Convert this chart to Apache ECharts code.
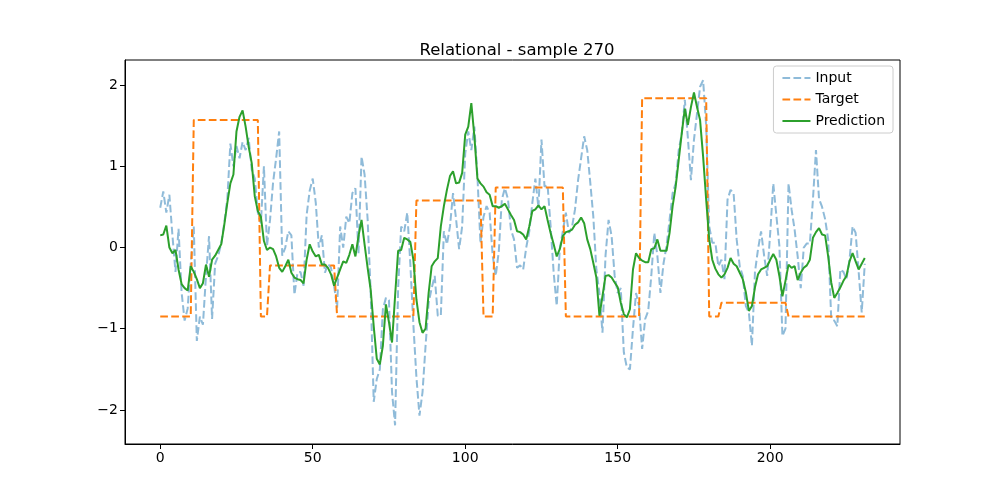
<!DOCTYPE html>
<html>
<head>
<meta charset="utf-8">
<script src="https://cdn.jsdelivr.net/npm/echarts@6/dist/echarts.min.js"></script>
<style>
    html, body {margin: 0; padding: 0; background: #fff;}
    #chart {width: 1000px; height: 500px;}
</style>
</head>
<body>
<div id="chart"></div>
<script>
const inputValues = [
    0.49, 0.69, 0.43, 0.65, 0.15, -0.3, 0.23, -0.55, -0.9, -0.75,
    -0.2, 0.26, -1.15, -0.85, -0.95, -0.35, 0.14, -0.88, -0.2, -0.1,
    0.05, 0.3, 0.6, 1.28, 1.0, 1.25, 1.1, 1.3, 1.2, 1.35,
    0.96, 0.85, 0.43, 0.3, 1.0, 0.02, 0.34, 0.8, 1.1, 1.43,
    -0.1, 0.0, 0.2, 0.15, -0.58, -0.31, -0.3, -0.47, 0.4, 0.7,
    0.85, 0.55, 0.0, 0.15, -0.31, -0.2, -0.25, -0.47, -0.74, 0.26,
    0.0, 0.38, 0.3, 0.67, 0.73, -0.07, 1.12, 0.9, 0.35, -0.55,
    -1.9, -1.62, -1.5, -0.76, -0.62, -0.65, -1.78, -2.19, -0.5, 0.26,
    0.2, 0.43, -0.2, -0.95, -1.6, -2.07, -1.78, -1.21, -0.68, -0.5,
    -0.35, -0.84, -0.84, 0.2, 0.04, 0.26, 0.67, 0.35, -0.02, 0.26,
    1.16, 1.43, 1.2, 1.49, 0.88, 0.05, 0.38, 0.51, 0.43, -0.1,
    -0.35, -0.05, 0.59, 0.73, 0.6, 0.22, 0.1, -0.25, -0.22, -0.27,
    0.0, 0.2, 0.55, 0.85, 0.49, 1.33, 0.75, 0.77, 0.26, -0.31,
    -0.72, -0.02, 0.2, 0.43, 0.18, 0.25, 0.47, 0.83, 1.1, 1.37,
    1.2, 0.8, 0.38, -0.27, -0.56, -1.05, -0.1, 0.34, 0.14, -0.35,
    -0.56, -0.5, -1.29, -1.48, -1.5, -1.0, -0.56, -0.72, -1.25, -0.88,
    -0.78, -0.35, 0.18, -0.1, -0.56, -0.2, 0.02, 0.34, 0.67, 0.79,
    1.2, 1.4, 1.82, 1.35, 0.83, 1.33, 1.65, 1.98, 2.06, 1.5,
    0.26, 0.06, 0.06, -0.23, -0.15, -0.39, 0.59, 0.71, 0.67, 0.1,
    -0.23, -0.35, -0.72, -0.8, -1.21, -0.3, -0.02, 0.2, -0.1, -0.35,
    0.18, 0.79, 0.4, 0.02, -1.09, -1.0, 0.79, 0.47, 0.22, -0.11,
    -0.5, 0.0, 0.05, 0.05, 0.59, 1.2, 0.6, 0.5, 0.35, 0.1,
    -0.88, -0.9, -0.97, -0.27, -0.3, -0.39, -0.15, 0.26, 0.18, -0.3,
    -0.8, -0.2
];

const targetValues = [
    -0.85, -0.85, -0.85, -0.85, -0.85, -0.85, -0.85, -0.85, -0.85, -0.85,
    -0.85, 1.57, 1.57, 1.57, 1.57, 1.57, 1.57, 1.57, 1.57, 1.57,
    1.57, 1.57, 1.57, 1.57, 1.57, 1.57, 1.57, 1.57, 1.57, 1.57,
    1.57, 1.57, 1.57, -0.85, -0.85, -0.85, -0.22, -0.22, -0.22, -0.22,
    -0.22, -0.22, -0.22, -0.22, -0.22, -0.22, -0.22, -0.22, -0.22, -0.22,
    -0.22, -0.22, -0.22, -0.22, -0.22, -0.22, -0.22, -0.22, -0.85, -0.85,
    -0.85, -0.85, -0.85, -0.85, -0.85, -0.85, -0.85, -0.85, -0.85, -0.85,
    -0.85, -0.85, -0.85, -0.85, -0.85, -0.85, -0.85, -0.85, -0.85, -0.85,
    -0.85, -0.85, -0.85, -0.85, 0.58, 0.58, 0.58, 0.58, 0.58, 0.58,
    0.58, 0.58, 0.58, 0.58, 0.58, 0.58, 0.58, 0.58, 0.58, 0.58,
    0.58, 0.58, 0.58, 0.58, 0.58, 0.58, -0.85, -0.85, -0.85, -0.85,
    0.74, 0.74, 0.74, 0.74, 0.74, 0.74, 0.74, 0.74, 0.74, 0.74,
    0.74, 0.74, 0.74, 0.74, 0.74, 0.74, 0.74, 0.74, 0.74, 0.74,
    0.74, 0.74, 0.74, -0.85, -0.85, -0.85, -0.85, -0.85, -0.85, -0.85,
    -0.85, -0.85, -0.85, -0.85, -0.85, -0.85, -0.85, -0.85, -0.85, -0.85,
    -0.85, -0.85, -0.85, -0.85, -0.85, -0.85, -0.85, -0.85, 1.84, 1.84,
    1.84, 1.84, 1.84, 1.84, 1.84, 1.84, 1.84, 1.84, 1.84, 1.84,
    1.84, 1.84, 1.84, 1.84, 1.84, 1.84, 1.84, 1.84, 1.84, 1.84,
    -0.85, -0.85, -0.85, -0.85, -0.68, -0.68, -0.68, -0.68, -0.68, -0.68,
    -0.68, -0.68, -0.68, -0.68, -0.68, -0.68, -0.68, -0.68, -0.68, -0.68,
    -0.68, -0.68, -0.68, -0.68, -0.68, -0.68, -0.85, -0.85, -0.85, -0.85,
    -0.85, -0.85, -0.85, -0.85, -0.85, -0.85, -0.85, -0.85, -0.85, -0.85,
    -0.85, -0.85, -0.85, -0.85, -0.85, -0.85, -0.85, -0.85, -0.85, -0.85,
    -0.85, -0.85
];

const predictionValues = [
    0.15, 0.16, 0.27, 0.0, -0.07, -0.03, -0.27, -0.45, -0.5, -0.53,
    -0.23, -0.3, -0.39, -0.5, -0.44, -0.21, -0.36, -0.15, -0.1, -0.03,
    0.04, 0.28, 0.55, 0.79, 0.9, 1.43, 1.61, 1.69, 1.49, 1.24,
    1.04, 0.63, 0.45, 0.38, 0.08, -0.03, 0.0, -0.02, -0.11, -0.25,
    -0.3, -0.23, -0.15, -0.31, -0.37, -0.39, -0.4, -0.44, -0.15, 0.04,
    -0.05, -0.11, -0.09, -0.21, -0.21, -0.25, -0.33, -0.47, -0.37, -0.27,
    -0.17, -0.19, -0.09, 0.04, -0.11, 0.14, 0.34, 0.04, -0.25, -0.52,
    -0.97, -1.37, -1.44, -1.21, -0.7, -0.92, -1.17, -0.6, -0.04, -0.03,
    0.12, 0.1, 0.07, -0.15, -0.64, -0.92, -1.05, -1.0, -0.56, -0.23,
    -0.17, -0.13, 0.26, 0.51, 0.71, 0.88, 0.94, 0.79, 0.8, 0.92,
    1.39, 1.49, 1.78, 1.37, 0.85, 0.79, 0.75, 0.68, 0.65, 0.51,
    0.51, 0.49, 0.51, 0.54, 0.47, 0.4, 0.34, 0.2, 0.19, 0.16,
    0.1, 0.26, 0.45, 0.47, 0.52, 0.47, 0.51, 0.34, 0.18, 0.04,
    -0.11, -0.02, 0.14, 0.19, 0.2, 0.22, 0.28, 0.31, 0.37, 0.3,
    0.1, -0.02, -0.19, -0.37, -0.84, -0.6, -0.35, -0.34, -0.37, -0.43,
    -0.49, -0.68, -0.82, -0.86, -0.76, -0.27, -0.07, -0.13, -0.16, -0.18,
    -0.18, -0.02, -0.01, 0.1, -0.04, -0.04, -0.04, 0.18, 0.51, 0.75,
    1.08, 1.41, 1.71, 1.51, 1.73, 1.91, 1.73, 1.57, 1.12, 0.59,
    0.1, -0.15, -0.26, -0.33, -0.37, -0.33, -0.25, -0.13, -0.2, -0.23,
    -0.31, -0.39, -0.55, -0.78, -0.72, -0.49, -0.33, -0.27, -0.25, -0.23,
    -0.15, -0.08, -0.15, -0.35, -0.6, -0.41, -0.21, -0.25, -0.23, -0.4,
    -0.31, -0.25, -0.22, -0.15, 0.12, 0.19, 0.24, 0.16, 0.15, -0.11,
    -0.43, -0.62, -0.56, -0.49, -0.41, -0.35, -0.17, -0.07, -0.17, -0.27,
    -0.2, -0.13
];

const xTicks = [0, 50, 100, 150, 200];
const yTicks = [-2, -1, 0, 1, 2];

const font = 'DejaVu Sans';
const withIndex = arr => arr.map((v, i) => [i, v]);
const minusSign = v => String(v).replace('-', '\u2212');
const dash = [7.7, 3.3];

const chart = echarts.init(document.getElementById('chart'));
const option = {
    animation: false,
    title: {
        text: 'Relational - sample 270',
        left: 512,
        top: 37,
        textAlign: 'center',
        textStyle: {fontFamily: font, fontSize: 16.5, fontWeight: 'normal', color: '#000'}
    },
    legend: {
        orient: 'vertical',
        right: 107,
        top: 66,
        padding: [5, 8, 5, 8],
        itemGap: 7.5,
        itemWidth: 28,
        itemHeight: 14,
        itemStyle: {opacity: 0},
        backgroundColor: 'rgba(255,255,255,0.8)',
        borderColor: '#cccccc',
        borderWidth: 1,
        borderRadius: 3,
        textStyle: {fontFamily: font, fontSize: 14, color: '#000'},
        data: ['Input', 'Target', 'Prediction']
    },
    grid: {
        left: 125, right: 100, top: 60, bottom: 56,
        show: true, borderColor: '#000', borderWidth: 1, backgroundColor: 'transparent'
    },
    xAxis: {
        type: 'value',
        min: -11.55,
        max: 242.55,
        splitLine: {show: false},
        axisLine: {show: true, onZero: false, lineStyle: {color: '#000'}},
        axisTick: {show: true, customValues: xTicks, length: 5, lineStyle: {color: '#000'}},
        axisLabel: {
            customValues: xTicks, color: '#000', fontFamily: font, fontSize: 14, margin: 7,
            formatter: minusSign
        }
    },
    yAxis: {
        type: 'value',
        min: -2.42,
        max: 2.31,
        splitLine: {show: false},
        axisLine: {show: true, onZero: false, lineStyle: {color: '#000'}},
        axisTick: {show: true, customValues: yTicks, length: 5, lineStyle: {color: '#000'}},
        axisLabel: {
            customValues: yTicks, color: '#000', fontFamily: font, fontSize: 14, margin: 7,
            formatter: minusSign
        }
    },
    series: [
        {
            name: 'Input',
            type: 'line',
            data: withIndex(inputValues),
            showSymbol: false,
            symbol: 'none',
            color: 'rgba(31,119,180,0.5)',
            lineStyle: {width: 2, type: dash, color: 'rgba(31,119,180,0.5)'}
        },
        {
            name: 'Target',
            type: 'line',
            data: withIndex(targetValues),
            showSymbol: false,
            symbol: 'none',
            color: '#ff7f0e',
            lineStyle: {width: 2, type: dash, color: '#ff7f0e'}
        },
        {
            name: 'Prediction',
            type: 'line',
            data: withIndex(predictionValues),
            showSymbol: false,
            symbol: 'none',
            color: '#2ca02c',
            lineStyle: {width: 2, color: '#2ca02c'}
        }
    ]
};
chart.setOption(option);
</script>
</body>
</html>
